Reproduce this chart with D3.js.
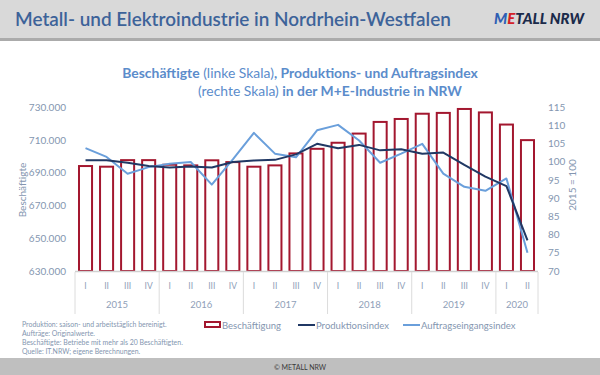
<!DOCTYPE html>
<html><head><meta charset="utf-8">
<script src="https://cdn.jsdelivr.net/npm/d3@7/dist/d3.min.js"></script>
<style>
html,body{margin:0;padding:0;background:#fff;}
svg text{font-family:Lato,"Open Sans",sans-serif;}
</style></head>
<body>
<svg id="c" width="600" height="375"></svg>
<script>
// ---- data ----
const years = ["2015","2016","2017","2018","2019","2020"];
const quarters = ["I","II","III","IV","I","II","III","IV","I","II","III","IV","I","II","III","IV","I","II","III","IV","I","II"];
const quarterYear = ["2015","2015","2015","2015","2016","2016","2016","2016","2017","2017","2017","2017","2018","2018","2018","2018","2019","2019","2019","2019","2020","2020"];
const beschaeftigung = [694000,693600,697600,697600,694800,694400,697500,696400,693600,694400,701700,704500,708200,713800,720900,722700,725900,726400,728800,726700,719300,709800];
const produktion = [100.4,100.4,99.7,98.8,98.4,98.7,98.4,99.9,100.3,100.5,102.0,104.9,103.7,104.6,103.1,103.4,102.2,102.5,99.1,95.9,93.3,78.4];
const auftrag = [103.7,101.3,96.7,98.5,99.4,99.9,93.7,100.6,107.9,102.2,101.2,108.6,110.1,105.8,99.7,102.2,104.9,96.7,93.1,92.0,95.4,75.0];
const leftTicks = [630000,650000,670000,690000,710000,730000];
const rightTicks = [70,75,80,85,90,95,100,105,110,115];
const notes = ["Produktion: saison- und arbeitstäglich bereinigt.","Aufträge: Originalwerte.","Beschäftigte: Betriebe mit mehr als 20 Beschäftigten.","Quelle: IT.NRW; eigene Berechnungen."];
const seriesNames = ["Beschäftigung","Produktionsindex","Auftragseingangsindex"];

const svg = d3.select("#c");
const C = {bar:"#A3172F", navy:"#203864", light:"#6A9FDB", tick:"#8496B0", title:"#5B8CCB", head:"#3D6399"};
const FF = "Lato, 'Open Sans', sans-serif";
const fmt = v => d3.format(",")(v).replace(/,/g,".");

function fit(sel, w){ const n=sel.node(); const l=n.getComputedTextLength(); const fs=parseFloat(sel.attr("font-size")); sel.attr("font-size", fs*w/l); }

// header
svg.append("rect").attr("x",0).attr("y",0).attr("width",600).attr("height",38).attr("fill","#D9D9D9");
svg.append("rect").attr("x",0).attr("y",38).attr("width",600).attr("height",3).attr("fill","#ABABAB");
const ht = svg.append("text").attr("x",15).attr("y",26).attr("font-size",19).attr("font-weight",600).attr("fill",C.head)
  .text("Metall- und Elektroindustrie in Nordrhein-Westfalen");
fit(ht, 436);
const logo = svg.append("text").attr("x",494).attr("y",24).attr("font-size",13).attr("font-weight",900).attr("font-style","italic");
logo.append("tspan").attr("fill","#2F5FB3").text("M");
logo.append("tspan").attr("fill","#D42027").text("E");
logo.append("tspan").attr("fill","#1B2A4A").text("TALL NRW");
fit(logo, 90);

// footer
svg.append("rect").attr("x",0).attr("y",358).attr("width",600).attr("height",17).attr("fill","#BFBFBF");
svg.append("text").attr("x",300).attr("y",369.5).attr("text-anchor","middle").attr("font-size",7).attr("fill","#3A3A3A").text("© METALL NRW");

// chart title
const t1 = svg.append("text").attr("x",300).attr("y",78).attr("text-anchor","middle").attr("font-size",14).attr("fill",C.title);
t1.append("tspan").attr("font-weight",700).text("Beschäftigte");
t1.append("tspan").attr("font-weight",400).text(" (linke Skala)");
t1.append("tspan").attr("font-weight",700).text(", Produktions- und Auftragsindex");
fit(t1, 356);
const t2 = svg.append("text").attr("x",198).attr("y",96).attr("font-size",14).attr("fill",C.title);
t2.append("tspan").attr("font-weight",400).text("(rechte Skala) ");
t2.append("tspan").attr("font-weight",700).text("in der M+E-Industrie in NRW");
fit(t2, 264);

// scales
const x = d3.scaleBand().domain(d3.range(quarters.length)).range([75,538]).paddingInner(0.38).paddingOuter(0.19);
const yL = d3.scaleLinear().domain([630000,730000]).range([271,107]);
const yR = d3.scaleLinear().domain([70,115]).range([271,107]);
const cx = i => x(i)+x.bandwidth()/2;

// left axis
const la = svg.append("g").attr("transform","translate(68,0)").call(d3.axisLeft(yL).tickValues(leftTicks).tickFormat(fmt).tickSize(0).tickPadding(2));
la.select(".domain").remove();
la.selectAll("text").attr("font-size",10).attr("fill",C.tick).attr("font-family",FF);
// right axis
const ra = svg.append("g").attr("transform","translate(546,0)").call(d3.axisRight(yR).tickValues(rightTicks).tickSize(0).tickPadding(2));
ra.select(".domain").remove();
ra.selectAll("text").attr("font-size",10).attr("fill",C.tick).attr("font-family",FF);

svg.append("text").attr("transform","translate(26,190) rotate(-90)").attr("text-anchor","middle").attr("font-size",10).attr("fill",C.tick).text("Beschäftigte");
svg.append("text").attr("transform","translate(576,185) rotate(-90)").attr("text-anchor","middle").attr("font-size",10).attr("fill",C.tick).text("2015 = 100");

// bars
svg.append("g").selectAll("rect").data(beschaeftigung).join("rect")
  .attr("x",(d,i)=>x(i)).attr("width",x.bandwidth())
  .attr("y",d=>yL(d)).attr("height",d=>yL(630000)-yL(d))
  .attr("fill","#fff").attr("stroke",C.bar).attr("stroke-width",2);

// category axis
const step = x.step();
svg.append("line").attr("x1",75).attr("x2",538).attr("y1",271.5).attr("y2",271.5).attr("stroke","#D0D0D0").attr("stroke-width",1.5);
const yearStart = years.map(yy => quarterYear.indexOf(yy));
const bounds = yearStart.concat([quarters.length]);
svg.append("g").selectAll("line").data(bounds).join("line")
  .attr("x1",i=>75+i*step).attr("x2",i=>75+i*step).attr("y1",272).attr("y2",314)
  .attr("stroke","#DCDCDC").attr("stroke-width",1);
svg.append("g").selectAll("text").data(quarters).join("text")
  .attr("x",(d,i)=>cx(i)).attr("y",289).attr("text-anchor","middle").attr("font-size",8.5).attr("fill","#8FA0B8").text(d=>d);
svg.append("g").selectAll("text").data(years).join("text")
  .attr("x",(d,k)=>75+(bounds[k]+bounds[k+1])/2*step).attr("y",308).attr("text-anchor","middle")
  .attr("font-size",9.5).attr("font-family",FF).attr("font-weight",400).attr("fill","#8FA0B8").text(d=>d);

// lines
const lineGen = d3.line().x((d,i)=>cx(i)).y(d=>yR(d));
svg.append("path").datum(auftrag).attr("d",lineGen).attr("fill","none").attr("stroke",C.light).attr("stroke-width",2).attr("stroke-linejoin","round");
svg.append("path").datum(produktion).attr("d",lineGen).attr("fill","none").attr("stroke",C.navy).attr("stroke-width",2).attr("stroke-linejoin","round");

// notes
const nt = svg.append("g").selectAll("text").data(notes).join("text")
  .attr("x",22).attr("y",(d,i)=>327+i*9).attr("font-size",6.6).attr("fill",C.tick).text(d=>d);
const ratio = 161 / nt.nodes()[2].getComputedTextLength();
nt.attr("font-size", 6.6*ratio);

// legend
const lg = svg.append("g");
lg.append("rect").attr("x",205).attr("y",322).attr("width",15).attr("height",5).attr("fill","#fff").attr("stroke",C.bar).attr("stroke-width",2);
lg.append("text").attr("x",222).attr("y",328.5).attr("font-size",9.5).attr("fill",C.tick).text(seriesNames[0]);
lg.append("line").attr("x1",298).attr("x2",315).attr("y1",325).attr("y2",325).attr("stroke",C.navy).attr("stroke-width",2);
lg.append("text").attr("x",316).attr("y",328.5).attr("font-size",9.5).attr("fill",C.tick).text(seriesNames[1]);
lg.append("line").attr("x1",403).attr("x2",420).attr("y1",325).attr("y2",325).attr("stroke",C.light).attr("stroke-width",2);
lg.append("text").attr("x",421).attr("y",328.5).attr("font-size",9.5).attr("fill",C.tick).text(seriesNames[2]);
</script>
</body></html>
